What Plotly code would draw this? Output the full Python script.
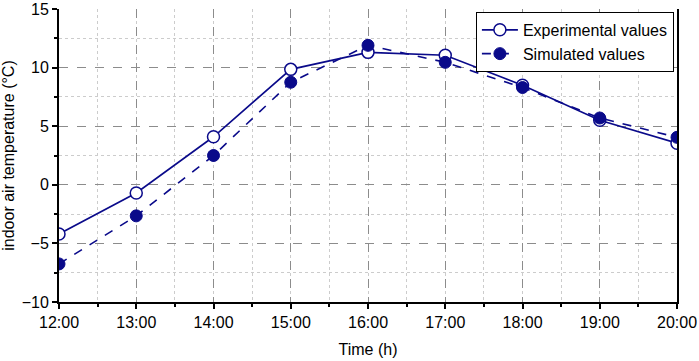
import plotly.graph_objects as go

hours = [12, 13, 14, 15, 16, 17, 18, 19, 20]
tick_labels = ["12:00", "13:00", "14:00", "15:00", "16:00", "17:00", "18:00", "19:00", "20:00"]
experimental = [-4.2, -0.7, 4.1, 9.85, 11.3, 11.05, 8.5, 5.5, 3.55]
simulated = [-6.75, -2.65, 2.5, 8.75, 11.9, 10.45, 8.3, 5.7, 4.05]

navy = "#0a0a8a"
font = "Liberation Sans, Arial, sans-serif"

fig = go.Figure()
fig.add_trace(go.Scatter(
    x=hours, y=experimental, name="Experimental values", mode="lines+markers",
    line=dict(color=navy, width=1.6),
    marker=dict(size=12, color="white", line=dict(color=navy, width=1.5)),
))
fig.add_trace(go.Scatter(
    x=hours, y=simulated, name="Simulated values", mode="lines+markers",
    line=dict(color=navy, width=1.6, dash="dash"),
    marker=dict(size=12, color=navy, line=dict(color=navy, width=1)),
))

axis_common = dict(
    showline=True, linecolor="black", linewidth=2,
    ticks="outside", ticklen=5, tickwidth=1.5, tickcolor="black",
    showgrid=True, gridcolor="#8c8c8c", gridwidth=1, griddash="dash",
    tickfont=dict(family=font, size=16, color="black"),
    zeroline=False, automargin=False,
)

fig.update_xaxes(
    **axis_common,
    range=[12, 20], tickvals=hours, ticktext=tick_labels,
    title=dict(text="Time (h)", font=dict(family=font, size=16, color="black"), standoff=14),
    minor=dict(dtick=0.5, ticks="outside", ticklen=3, tickcolor="black",
               showgrid=True, gridcolor="#cccccc", griddash="dot", gridwidth=1),
)
fig.update_yaxes(
    **axis_common,
    range=[-10, 15], dtick=5, mirror=True,
    title=dict(text="indoor air temperature (°C)", font=dict(family=font, size=16, color="black"), standoff=3),
    minor=dict(dtick=2.5, ticks="outside", ticklen=3, tickcolor="black",
               showgrid=True, gridcolor="#cccccc", griddash="dot", gridwidth=1),
)

fig.update_layout(
    width=699, height=361,
    margin=dict(l=59, r=22, t=9, b=59),
    plot_bgcolor="white", paper_bgcolor="white",
    font=dict(family=font, size=16, color="black"),
    legend=dict(
        x=0.995, y=0.99, xanchor="right", yanchor="top",
        bgcolor="white", bordercolor="black", borderwidth=1,
        font=dict(family=font, size=16, color="black"),
        tracegroupgap=0, itemwidth=36,
    ),
)

fig.write_html("out.html", config={"displayModeBar": False},
               post_script="document.body.style.margin='0';")
